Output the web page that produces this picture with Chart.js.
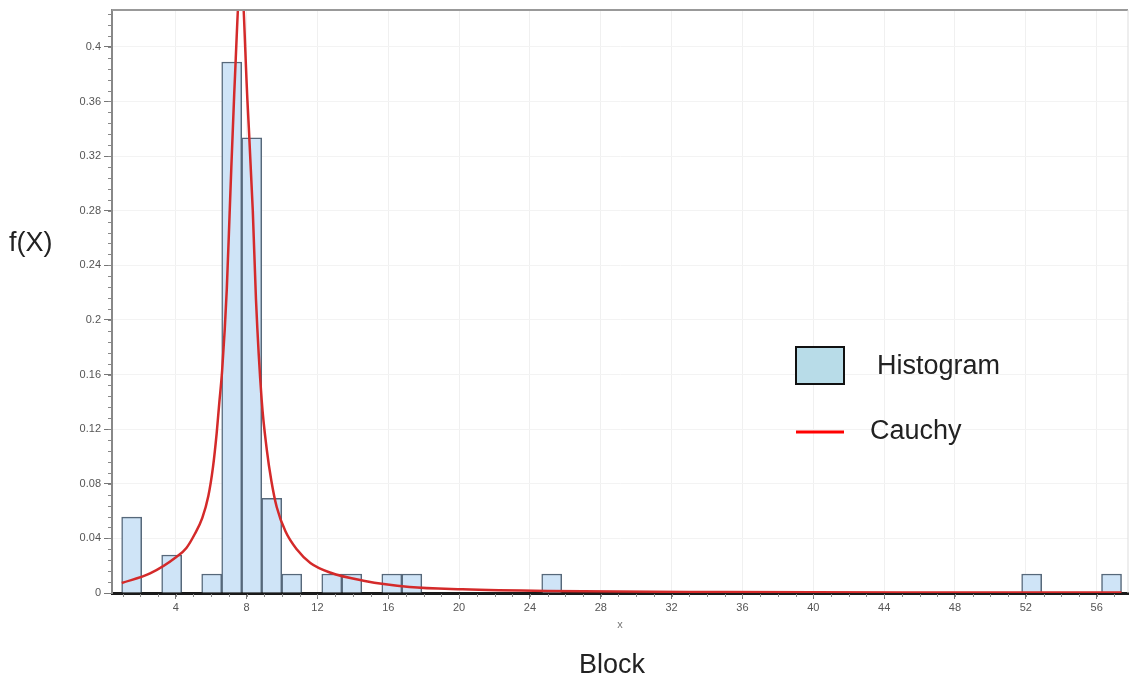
<!DOCTYPE html>
<html>
<head>
<meta charset="utf-8">
<script src="https://cdn.jsdelivr.net/npm/chart.js@4"></script>
<style>
  html, body { margin: 0; padding: 0; background: #fff; }
  #wrap { width: 1130px; height: 680px; position: relative; }
</style>
</head>
<body>
<div id="wrap"><canvas id="histChart" width="1130" height="680"></canvas></div>
<script>
// histogram bins (centre of each non-empty bin) and their density
const binCenters = [1.51, 3.77, 6.03, 7.16, 8.29, 9.42, 10.55, 12.81, 13.94, 16.20, 17.33, 25.23, 52.33, 56.84];
const density = [0.0556, 0.0278, 0.0139, 0.3889, 0.3333, 0.0694, 0.0139, 0.0139, 0.0139, 0.0139, 0.0139, 0.0139, 0.0139, 0.0139];

// fitted Cauchy curve
const curveX = [0.95, 2.55, 4.05, 4.6, 5.09, 5.5, 5.84, 6.1, 6.31, 6.45, 6.62, 6.88, 7.07, 7.3, 7.68, 8.05, 8.35, 8.53, 8.85, 9.14, 9.4, 9.70, 10.2, 10.83, 11.6, 12.71, 14.6, 17.2, 20.2, 25, 35, 45, 57.4];
const curveY = [0.0073, 0.0143, 0.0265, 0.033, 0.0436, 0.055, 0.071, 0.092, 0.117, 0.138, 0.163, 0.222, 0.288, 0.365, 0.452, 0.36, 0.28, 0.215, 0.1416, 0.105, 0.082, 0.063, 0.045, 0.032, 0.022, 0.015, 0.009, 0.0044, 0.0027, 0.0015, 0.0007, 0.0004, 0.0003];

const xTicks = [4, 8, 12, 16, 20, 24, 28, 32, 36, 40, 44, 48, 52, 56];
const yTicks = [0, 0.04, 0.08, 0.12, 0.16, 0.2, 0.24, 0.28, 0.32, 0.36, 0.4];
const xMinorStep = 1;
const yMinorStep = 0.008;

const legendItems = ["Histogram", "Cauchy"];

const FONT = "'Liberation Sans', Arial, sans-serif";

// frame on top/right, minor ticks, outside labels and the legend
const extras = {
  id: "extras",
  afterDraw(chart) {
    const c = chart.ctx;
    const a = chart.chartArea;
    const xs = chart.scales.x;
    const ys = chart.scales.y;
    c.save();
    c.strokeStyle = "#999";
    c.lineWidth = 2;
    c.beginPath();
    c.moveTo(a.left, a.top);
    c.lineTo(a.right, a.top);
    c.stroke();
    c.strokeStyle = "#ddd";
    c.lineWidth = 1;
    c.beginPath();
    c.moveTo(a.right, a.top);
    c.lineTo(a.right, a.bottom);
    c.stroke();

    // minor ticks
    c.strokeStyle = "#888";
    c.lineWidth = 1;
    c.beginPath();
    for (let v = 1; v < xs.max; v += xMinorStep) {
      const px = Math.round(xs.getPixelForValue(v)) + 0.5;
      c.moveTo(px, a.bottom + 1);
      c.lineTo(px, a.bottom + 4);
    }
    for (let v = yMinorStep; v < ys.max; v += yMinorStep) {
      const py = Math.round(ys.getPixelForValue(v)) + 0.5;
      c.moveTo(a.left - 4, py);
      c.lineTo(a.left - 1, py);
    }
    c.stroke();

    c.fillStyle = "#222";
    c.font = "27px " + FONT;
    c.textBaseline = "middle";
    c.textAlign = "left";
    c.fillText("f(X)", 9, 244);
    c.textAlign = "center";
    c.fillText("Block", 612, 666);

    // legend
    c.textAlign = "left";
    c.fillStyle = "#b8dce8";
    c.fillRect(796, 347, 48, 37);
    c.strokeStyle = "#111";
    c.lineWidth = 2;
    c.strokeRect(796, 347, 48, 37);
    c.fillStyle = "#222";
    c.fillText(legendItems[0], 877, 367);
    c.strokeStyle = "#ff0000";
    c.lineWidth = 3;
    c.beginPath();
    c.moveTo(796, 432);
    c.lineTo(844, 432);
    c.stroke();
    c.fillText(legendItems[1], 870, 432);
    c.restore();
  }
};

const ctx = document.getElementById("histChart").getContext("2d");
const chart = new Chart(ctx, {
  type: "bar",
  data: {
    datasets: [
      {
        type: "line",
        label: legendItems[1],
        data: curveX.map((x, i) => ({ x: x, y: curveY[i] })),
        borderColor: "#d42a2a",
        borderWidth: 2.5,
        pointRadius: 0,
        cubicInterpolationMode: "monotone",
        order: 0
      },
      {
        label: legendItems[0],
        data: binCenters.map((x, i) => ({ x: x, y: density[i] })),
        backgroundColor: "#cfe4f7",
        borderColor: "#56687a",
        borderWidth: 1.5,
        barPercentage: 1,
        categoryPercentage: 1,
        order: 1
      }
    ]
  },
  options: {
    responsive: false,
    animation: false,
    layout: { padding: { left: 0, top: 10, right: 2, bottom: 40 } },
    plugins: { legend: { display: false }, tooltip: { enabled: false } },
    scales: {
      x: {
        type: "linear",
        min: 0.4,
        max: 57.77,
        offset: false,
        afterBuildTicks: s => { s.ticks = xTicks.map(v => ({ value: v })); },
        afterFit: s => { s.height = 47; },
        ticks: { color: "#555", font: { size: 11, family: FONT }, padding: 2, maxRotation: 0 },
        grid: { offset: false, color: "#f0f0f0", tickColor: "#777", tickLength: 6 },
        border: { color: "#1a1a1a", width: 3 },
        title: { display: true, text: "x", color: "#777", font: { size: 11, family: FONT }, padding: { top: 0, bottom: 8 } }
      },
      y: {
        min: 0,
        max: 0.427,
        afterBuildTicks: s => { s.ticks = yTicks.map(v => ({ value: v })); },
        afterFit: s => { s.width = 112; },
        ticks: {
          color: "#555",
          font: { size: 11, family: FONT },
          padding: 3,
          callback: v => String(+v.toFixed(2))
        },
        grid: { color: "#f3f3f3", tickColor: "#777", tickLength: 8 },
        border: { color: "#888", width: 2 }
      }
    }
  },
  plugins: [extras]
});
</script>
</body>
</html>
